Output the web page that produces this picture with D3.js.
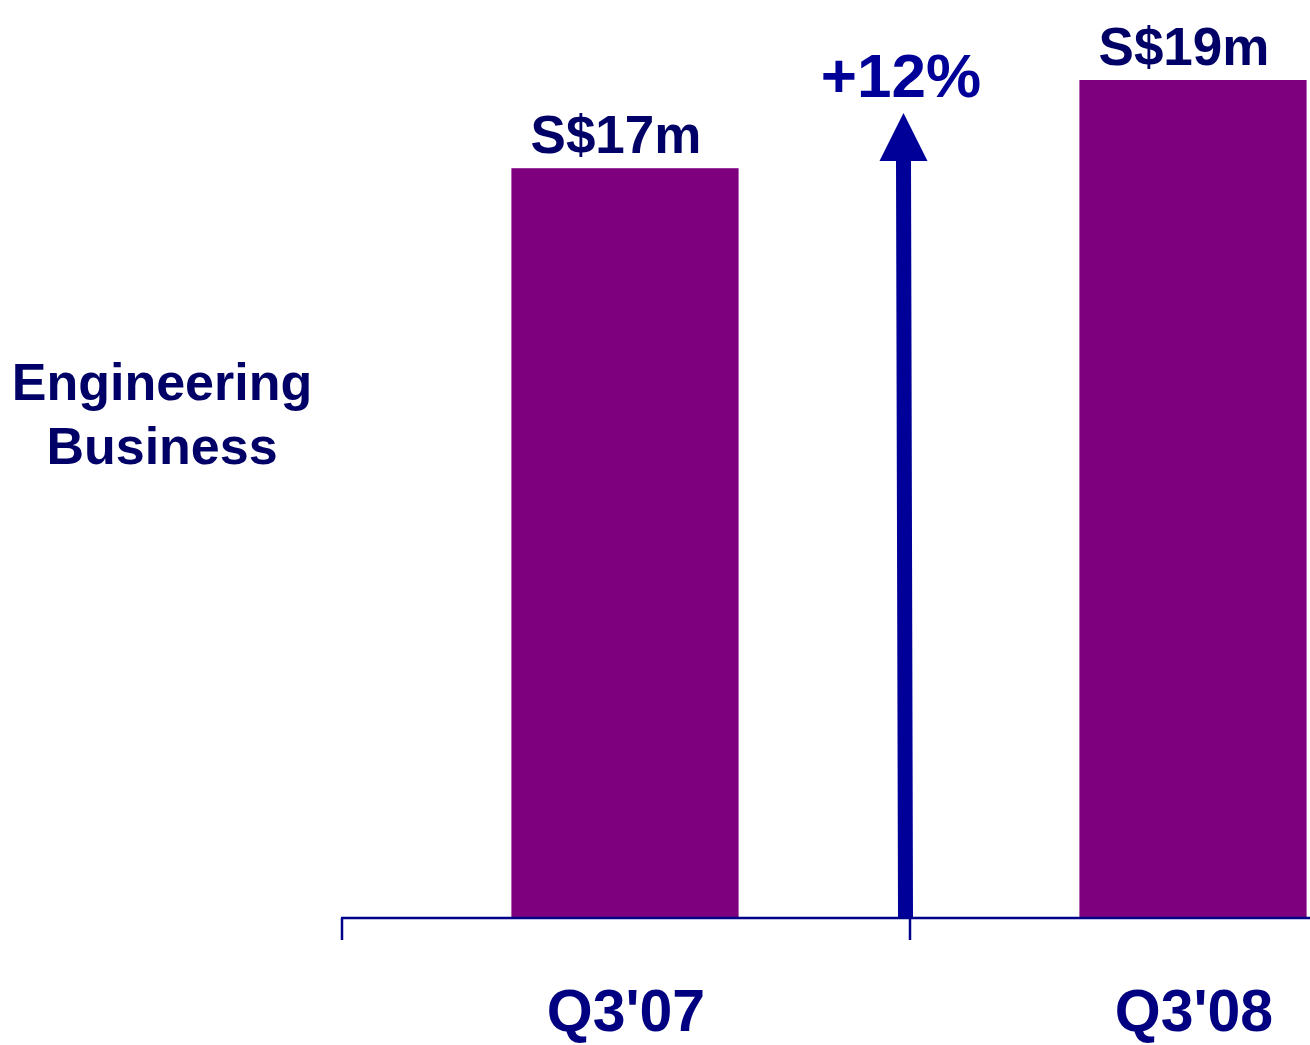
<!DOCTYPE html>
<html>
<head>
<meta charset="utf-8">
<script src="https://cdn.jsdelivr.net/npm/d3@7"></script>
<style>
  html, body { margin: 0; padding: 0; background: #fff; }
  svg { display: block; font-family: "Liberation Sans", Arial, Helvetica, sans-serif; font-weight: bold; }
</style>
</head>
<body>
<svg id="chart" width="1310" height="1045"></svg>
<script>
// Engineering Business revenue, S$ millions
const categories = ["Q3'07", "Q3'08"];
const revenue = [17, 19];
const valueLabels = ["S$17m", "S$19m"];
const growthLabel = "+12%";
const segmentTitle = ["Engineering", "Business"];

const svg = d3.select("#chart");

const baseY = 918;
const x = d3.scaleBand().domain(categories).range([341, 1477]).paddingInner(0).paddingOuter(0);
const y = d3.scaleLinear().domain([0, 19]).range([baseY, 80]);
const barW = x.bandwidth() * 0.4;

// bars
svg.selectAll("rect.bar")
  .data(categories)
  .join("rect")
  .attr("class", "bar")
  .attr("x", d => x(d) + (x.bandwidth() - barW) / 2)
  .attr("y", (d, i) => y(revenue[i]))
  .attr("width", barW)
  .attr("height", (d, i) => baseY - y(revenue[i]))
  .attr("fill", "#7f007f");

// value labels above bars
svg.selectAll("text.val")
  .data(categories)
  .join("text")
  .attr("class", "val")
  .attr("x", d => x(d) + x.bandwidth() / 2 - 9)
  .attr("y", (d, i) => y(revenue[i]) - 15)
  .attr("text-anchor", "middle")
  .attr("font-size", 53)
  .attr("fill", "#000066")
  .text((d, i) => valueLabels[i]);

// category axis: baseline with ticks at band boundaries
const axisColor = "#000088";
svg.append("line")
  .attr("x1", x(categories[0])).attr("x2", 1310)
  .attr("y1", baseY).attr("y2", baseY)
  .attr("stroke", axisColor).attr("stroke-width", 2.5);

const bounds = categories.map(c => x(c)).concat([x.range()[1]]);
svg.selectAll("line.tick")
  .data(bounds)
  .join("line")
  .attr("class", "tick")
  .attr("x1", d => d + 1).attr("x2", d => d + 1)
  .attr("y1", baseY).attr("y2", baseY + 22)
  .attr("stroke", axisColor).attr("stroke-width", 2.5);

svg.selectAll("text.cat")
  .data(categories)
  .join("text")
  .attr("class", "cat")
  .attr("x", d => x(d) + x.bandwidth() / 2 + 1)
  .attr("y", 1031)
  .attr("text-anchor", "middle")
  .attr("font-size", 59)
  .attr("fill", "#000080")
  .text(d => d);

// growth arrow between the two periods
const arrowColor = "#000099";
const ax = x(categories[1]) - 5;
const tipY = 113, headBase = 161, headHalf = 24, shaftHalf = 7.5;
svg.append("path")
  .attr("d", `M${ax + 1.5 - shaftHalf},${baseY - 1}
              L${ax - 0.5 - shaftHalf},${headBase}
              L${ax - 0.5 - headHalf},${headBase}
              L${ax - 0.5},${tipY}
              L${ax - 0.5 + headHalf},${headBase}
              L${ax - 0.5 + shaftHalf},${headBase}
              L${ax + 1.5 + shaftHalf},${baseY - 1} Z`)
  .attr("fill", arrowColor);

svg.append("text")
  .attr("x", ax - 3)
  .attr("y", 97)
  .attr("text-anchor", "middle")
  .attr("font-size", 62)
  .attr("fill", arrowColor)
  .text(growthLabel);

// segment title
svg.append("text")
  .attr("x", 162)
  .attr("text-anchor", "middle")
  .attr("font-size", 52)
  .attr("fill", "#000066")
  .selectAll("tspan")
  .data(segmentTitle)
  .join("tspan")
  .attr("x", 162)
  .attr("y", (d, i) => 400 + i * 64)
  .text(d => d);
</script>
</body>
</html>
